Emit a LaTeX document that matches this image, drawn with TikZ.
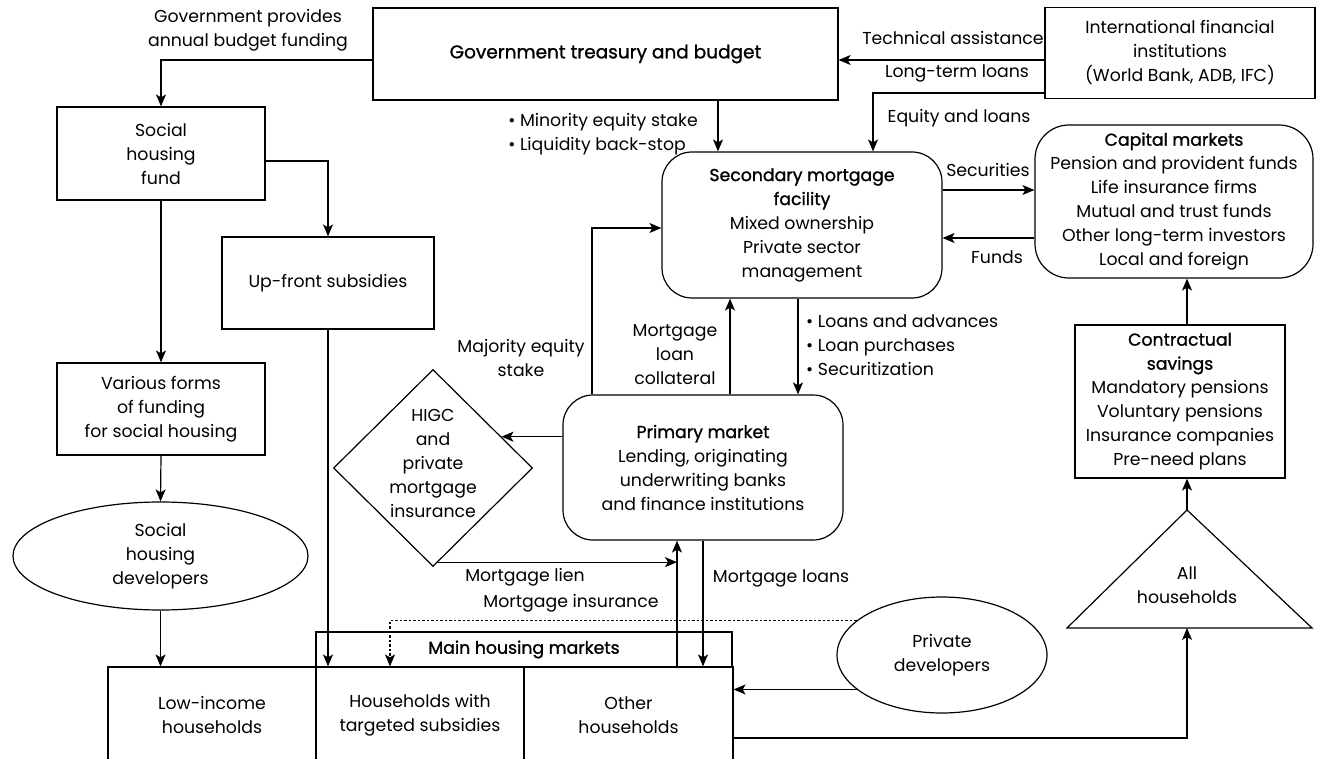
\documentclass[tikz,border=0pt]{standalone}
\usepackage{fontspec}
\setmainfont{Poppins}
\newfontfamily\headfont[FakeBold=1.2]{Poppins}
\usetikzlibrary{shapes.geometric,arrows.meta,calc}

\begin{document}
\begin{tikzpicture}[x=1pt,y=-1pt,
  txt/.style={font=\fontsize{17.3}{24}\selectfont, align=center, inner sep=0pt},
  boxn/.style={txt, draw, line width=1.2pt, rectangle},
  rbox/.style={boxn, rounded corners=30pt},
  oval/.style={txt, draw, line width=1.2pt, ellipse},
  ln/.style={line width=1.2pt},
  arr/.style={line width=1.2pt, -{Stealth[length=12pt,width=10pt,inset=3pt]}},
  dotarr/.style={arr, dash pattern=on 2.5pt off 2pt},
  lbl/.style={txt}
]
\useasboundingbox (0,0) rectangle (1317,759);
\clip (0,0) rectangle (1317,759);

% ---- boxes -------------------------------------------------------------
\node[boxn, minimum width=465pt, minimum height=92pt] (gov) at (605.5,54)
  {\headfont\fontsize{18.5}{24}\selectfont Government treasury and budget};
\node[boxn, minimum width=270pt, minimum height=91pt] (ifi) at (1180,53)
  {International financial\\institutions\\(World Bank, ADB, IFC)};
\node[boxn, minimum width=208pt, minimum height=93pt] (fund) at (161,153.5)
  {Social\\housing\\fund};
\node[boxn, minimum width=212pt, minimum height=92pt] (upfront) at (328,283)
  {Up-front subsidies};
\node[boxn, minimum width=208pt, minimum height=92pt] (various) at (161,409)
  {Various forms\\of funding\\for social housing};
\node[oval, minimum width=295pt, minimum height=108pt] (shd) at (160.5,556)
  {Social\\housing\\developers};

\node[rbox, minimum width=280pt, minimum height=146pt] (smf) at (802,225)
  {{\headfont Secondary mortgage}\\{\headfont facility}\\Mixed ownership\\Private sector\\management};
\node[rbox, rounded corners=34pt, minimum width=278pt, minimum height=153pt] (cap) at (1174,201.5)
  {{\headfont Capital markets}\\Pension and provident funds\\Life insurance firms\\Mutual and trust funds\\Other long-term investors\\Local and foreign};
\node[boxn, minimum width=210pt, minimum height=153pt] (cs) at (1180,401.5)
  {{\headfont Contractual}\\{\headfont savings}\\Mandatory pensions\\Voluntary pensions\\Insurance companies\\Pre-need plans};

\node[rbox, minimum width=280pt, minimum height=145pt] (pm) at (703,467.5)
  {{\headfont Primary market}\\Lending, originating\\underwriting banks\\and finance institutions};

\node[draw, line width=1.2pt, diamond, aspect=1, inner sep=0pt,
      minimum width=199pt, minimum height=197pt] (hig) at (433,468) {};
\node[lbl] (higtxt) at (433,463) {HIGC\\and\\private\\mortgage\\insurance};

% all households
\coordinate (triA) at (1187,510);
\coordinate (triL) at (1067,628);
\coordinate (triR) at (1312,628);
\coordinate (triB) at (1187,628);
\draw[ln, line join=miter] (triA) -- (triR) -- (triL) -- cycle;
\node[lbl] (alltxt) at (1187,585) {All\\households};

\node[oval, minimum width=210pt, minimum height=116pt] (pd) at (942,655)
  {Private\\developers};

% housing markets
\node[boxn, minimum width=416pt, minimum height=35pt] (mhm) at (524,649.5)
  {\headfont Main housing markets};
\node[boxn, minimum width=208pt, minimum height=96pt] (low) at (212,715)
  {Low-income\\households};
\node[boxn, minimum width=208pt, minimum height=96pt] (hts) at (420,715)
  {Households with\\targeted subsidies};
\node[boxn, minimum width=209pt, minimum height=96pt] (oth) at (628.5,715)
  {Other\\households};

% ---- connectors --------------------------------------------------------
\draw[arr] ([yshift=-6pt]gov.west) -| (fund.north);
\node[lbl] (l1) at (248,30) {Government provides\\annual budget funding};

\draw[arr] ([yshift=-7.5pt]fund.east) -| (upfront.north);
\draw[arr] (fund.south) -- (various.north);
\draw[arr] (various.south) -- (shd.north);
\draw[arr] (shd.south) -- (shd.south |- low.north);
\draw[arr] (upfront.south) -- (upfront.south |- hts.north);

\draw[arr] ([yshift=-7pt]ifi.west) -- ([yshift=-7pt]ifi.west -| gov.east);
\node[lbl] (l2) at (953,38) {Technical assistance};

\draw[arr] ([yshift=-40pt]ifi.west) -| ([xshift=71pt]smf.north);
\node[lbl] (l3) at (957,73) {Long-term loans};
\node[lbl] (l4) at (959,118) {Equity and loans};

\coordinate (g1) at ([xshift=-84pt]smf.north);
\draw[arr] (gov.south -| g1) -- (g1);
\node[lbl, align=left] (l5) at (603,134.5) {• Minority equity stake\\• Liquidity back-stop};

\draw[arr] ([yshift=35pt]smf.east) -- ([yshift=35pt]smf.east -| cap.west);
\node[lbl] (l6) at (988,170) {Securities};
\draw[arr] ([yshift=-36.5pt]cap.west) -- ([yshift=-36.5pt]cap.west -| smf.east);
\node[lbl] (l7) at (997,257) {Funds};

\draw[arr] (triA) -- (triA |- cs.south);
\draw[arr] (triA |- cs.north) -- (triA |- cap.south);
\draw[arr] ([yshift=-23pt]oth.east) -| (triB);

\draw[arr] (pd.202.6) -- (pd.202.6 -| oth.east);
\draw[dotarr] (pd.158) -| ([xshift=-30pt]hts.north);

\coordinate (h1) at ($(hig.north)!0.684!(hig.east)$);
\draw[arr] (h1 -| pm.west) -- (h1);

\coordinate (m1) at ([xshift=-26pt]pm.south);
\coordinate (h2) at ($(hig.east)!0.95!(hig.south)$);
\draw[arr] (h2) -- (h2 -| m1);
\draw[arr] (m1 |- mhm.south) -- (m1);
\node[lbl] (l8) at (525,577) {Mortgage lien};
\node[lbl] (l9) at (571,603) {Mortgage insurance};

\draw[arr] (pm.south) -- (pm.south |- oth.north);
\node[lbl] (l10) at (781,578) {Mortgage loans};

\coordinate (m2) at ([xshift=-111pt]pm.north);
\draw[arr] (m2) |- ([yshift=-3pt]smf.west);
\node[lbl] (l11) at (521,358) {Majority equity\\stake};

\coordinate (m3) at ([xshift=27pt]pm.north);
\draw[arr] (m3) -- (m3 |- smf.south);
\node[lbl] (l12) at (675,355) {Mortgage\\loan\\collateral};

\coordinate (m4) at ([xshift=-4pt]smf.south);
\draw[arr] (m4) -- (m4 |- pm.north);
\node[lbl, align=left, anchor=west] (l13) at (806,345) {• Loans and advances\\• Loan purchases\\• Securitization};
\end{tikzpicture}
\end{document}
